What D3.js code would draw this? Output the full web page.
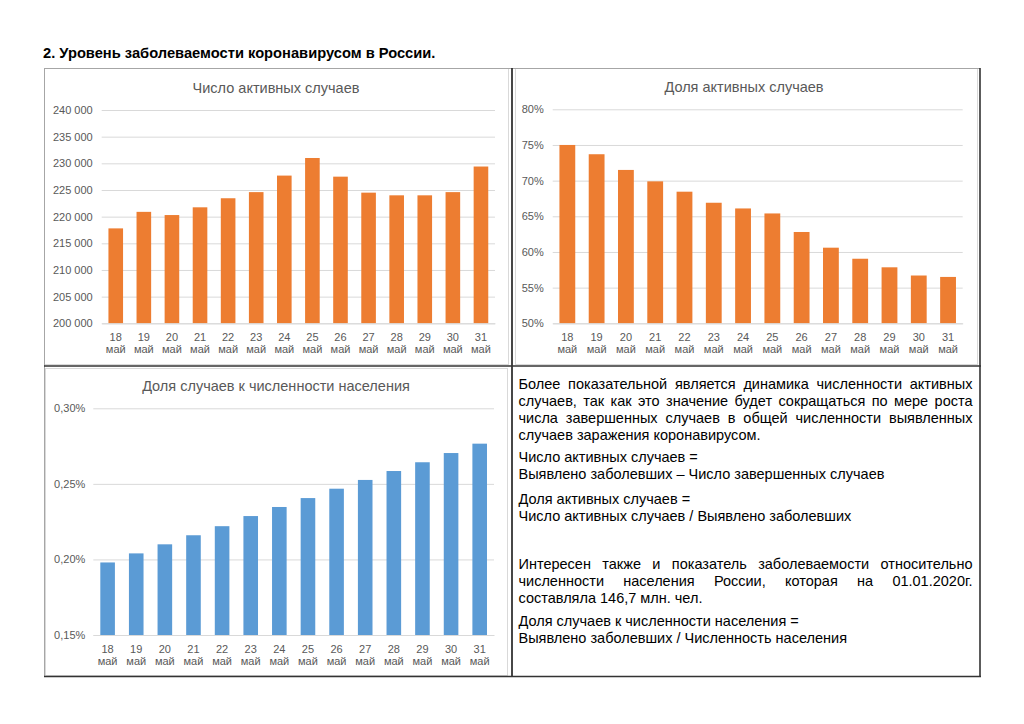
<!DOCTYPE html>
<html>
<head>
<meta charset="utf-8">
<script src="https://cdn.jsdelivr.net/npm/d3@7"></script>
<style>
  html, body { margin: 0; padding: 0; background: #fff; }
  svg { display: block; }
  text { font-family: "Liberation Sans", Arial, sans-serif; }
</style>
</head>
<body>
<svg id="chart" width="1024" height="724"></svg>
<script>
// ---------- DATA ----------
const days = ["18", "19", "20", "21", "22", "23", "24", "25", "26", "27", "28", "29", "30", "31"];
const monthLabel = "май";

const activeCases = [217800, 220900, 220300, 221750, 223450, 224600, 227700, 231000, 227500, 224500, 224000, 224000, 224600, 229400];
const activeCasesTicks = [200000, 205000, 210000, 215000, 220000, 225000, 230000, 235000, 240000];

const activeShare = [75.0, 73.7, 71.5, 69.9, 68.45, 66.9, 66.1, 65.4, 62.8, 60.6, 59.05, 57.85, 56.7, 56.5];
const activeShareTicks = [50, 55, 60, 65, 70, 75, 80];

const populationShare = [0.198, 0.204, 0.210, 0.216, 0.222, 0.2287, 0.2347, 0.2406, 0.2468, 0.2526, 0.2585, 0.2643, 0.2704, 0.2766];
const populationShareTicks = [0.15, 0.20, 0.25, 0.30];

const pageTitle = "2. Уровень заболеваемости коронавирусом в России.";
const titles = ["Число активных случаев", "Доля активных случаев", "Доля случаев к численности населения"];

const paragraphs = [
  { justify: true, lines: [
    "Более показательной является динамика численности активных",
    "случаев, так как это значение будет сокращаться по мере роста",
    "числа завершенных случаев в общей численности выявленных",
    "случаев заражения коронавирусом."] },
  { justify: false, lines: [
    "Число активных случаев =",
    "Выявлено заболевших – Число завершенных случаев"] },
  { justify: false, lines: [
    "Доля активных случаев =",
    "Число активных случаев / Выявлено заболевших"] },
  { justify: true, lines: [
    "Интересен также и показатель заболеваемости относительно",
    "численности населения России, которая на 01.01.2020г.",
    "составляла 146,7 млн. чел."] },
  { justify: false, lines: [
    "Доля случаев к численности населения =",
    "Выявлено заболевших / Численность населения"] }
];

// ---------- SETUP ----------
const ru = d3.formatLocale({ decimal: ",", thousands: "\u00a0", grouping: [3], currency: ["", " ₽"] });
const svg = d3.select("#chart");
svg.append("rect").attr("width", 1024).attr("height", 724).attr("fill", "#fff");

// page title
svg.append("text").attr("x", 43).attr("y", 58)
  .attr("font-size", 14.7).attr("font-weight", "bold").attr("fill", "#000")
  .text(pageTitle);

function drawChart(cfg) {
  const g = svg.append("g");
  g.append("rect").attr("x", cfg.frame[0] + 0.5).attr("y", cfg.frame[1] + 0.5)
    .attr("width", cfg.frame[2] - cfg.frame[0]).attr("height", cfg.frame[3] - cfg.frame[1])
    .attr("fill", "#fff").attr("stroke", "#d9d9d9").attr("stroke-width", 1);

  const x = d3.scaleBand().domain(days).range([cfg.left, cfg.right])
    .paddingInner(cfg.pad).paddingOuter(cfg.pad / 2);
  const y = d3.scaleLinear().domain([cfg.ticks[0], cfg.ticks[cfg.ticks.length - 1]])
    .range([cfg.bottom, cfg.top]);

  const yAxis = d3.axisLeft(y).tickValues(cfg.ticks).tickSize(-(cfg.right - cfg.left))
    .tickPadding(cfg.labelGap).tickFormat(cfg.fmt);
  const ya = g.append("g").attr("transform", `translate(${cfg.left},0)`).call(yAxis);
  ya.select(".domain").remove();
  ya.selectAll(".tick line").attr("stroke", "#d9d9d9").attr("stroke-width", 1);
  ya.selectAll(".tick text").attr("fill", "#595959").attr("font-size", 11)
    .attr("font-family", "Liberation Sans, Arial, sans-serif");

  g.selectAll("rect.bar").data(cfg.values).enter().append("rect")
    .attr("class", "bar")
    .attr("x", (d, i) => x(days[i]))
    .attr("width", x.bandwidth())
    .attr("y", d => y(d))
    .attr("height", d => cfg.bottom - y(d))
    .attr("fill", cfg.color);

  const xAxis = d3.axisBottom(x).tickSize(0).tickFormat("");
  const xa = g.append("g").attr("transform", `translate(0,${cfg.bottom})`).call(xAxis);
  xa.select(".domain").attr("stroke", "#d9d9d9");
  const lbl = g.append("g").selectAll("text").data(days).enter().append("text")
    .attr("text-anchor", "middle").attr("fill", "#595959").attr("font-size", 11)
    .attr("x", d => x(d) + x.bandwidth() / 2);
  lbl.append("tspan").attr("x", d => x(d) + x.bandwidth() / 2).attr("y", cfg.bottom + 17.5).text(d => d);
  lbl.append("tspan").attr("x", d => x(d) + x.bandwidth() / 2).attr("y", cfg.bottom + 30).text(monthLabel);

  g.append("text").attr("x", cfg.titleX).attr("y", cfg.titleY).attr("text-anchor", "middle")
    .attr("fill", "#595959").attr("font-size", 14.5).text(cfg.title);
}

drawChart({
  frame: [44, 68, 508, 364], left: 101.7, right: 495, top: 110, bottom: 323.3,
  ticks: activeCasesTicks, values: activeCases, fmt: ru.format(","), labelGap: 9,
  color: "#ED7D31", pad: 0.48, title: titles[0], titleX: 276, titleY: 92.5
});
drawChart({
  frame: [515, 68, 977, 364], left: 552.7, right: 962.7, top: 109.3, bottom: 323.3,
  ticks: activeShareTicks, values: activeShare, fmt: d => ru.format(".0f")(d) + "%", labelGap: 9,
  color: "#ED7D31", pad: 0.46, title: titles[1], titleX: 744, titleY: 91.5
});
drawChart({
  frame: [45, 368, 507, 675], left: 93.3, right: 494, top: 408.3, bottom: 635,
  ticks: populationShareTicks, values: populationShare, fmt: d => ru.format(".2f")(d) + "%", labelGap: 8,
  color: "#5B9BD5", pad: 0.49, title: titles[2], titleX: 276, titleY: 391
});

// ---------- table lines ----------
const T = svg.append("g");
T.append("line").attr("x1", 44).attr("x2", 980).attr("y1", 68.5).attr("y2", 68.5).attr("stroke", "#a6a6a6").attr("stroke-width", 1);
T.append("line").attr("x1", 44.5).attr("x2", 44.5).attr("y1", 68).attr("y2", 676).attr("stroke", "#a6a6a6").attr("stroke-width", 1);
T.append("line").attr("x1", 980).attr("x2", 980).attr("y1", 68).attr("y2", 677).attr("stroke", "#333").attr("stroke-width", 1.6);
T.append("line").attr("x1", 44).attr("x2", 981).attr("y1", 676.5).attr("y2", 676.5).attr("stroke", "#333").attr("stroke-width", 1.6);
T.append("line").attr("x1", 512).attr("x2", 512).attr("y1", 68).attr("y2", 677).attr("stroke", "#333").attr("stroke-width", 1.8);
T.append("line").attr("x1", 44).attr("x2", 981).attr("y1", 366).attr("y2", 366).attr("stroke", "#333").attr("stroke-width", 1.6);

// ---------- text panel ----------
const TX0 = 518.5, TX1 = 972.5, FS = 14.5;
const lineYs = [[383.5, 400.5, 417.5, 434.5], [457, 474], [498.5, 515.5], [564, 581, 597.5], [621, 638]];
const tp = svg.append("g");
paragraphs.forEach((p, pi) => {
  p.lines.forEach((ln, li) => {
    const yy = lineYs[pi][li] + 5;
    const isLast = li === p.lines.length - 1;
    if (p.justify && !isLast) {
      const words = ln.split(" ");
      const nodes = words.map(w => tp.append("text").attr("y", yy).attr("font-size", FS).attr("fill", "#000").text(w));
      const widths = nodes.map(n => n.node().getComputedTextLength());
      const total = d3.sum(widths);
      const gap = (TX1 - TX0 - total) / (words.length - 1);
      let cx = TX0;
      nodes.forEach((n, i) => { n.attr("x", cx); cx += widths[i] + gap; });
    } else {
      tp.append("text").attr("x", TX0).attr("y", yy).attr("font-size", FS).attr("fill", "#000").text(ln);
    }
  });
});
</script>
</body>
</html>
